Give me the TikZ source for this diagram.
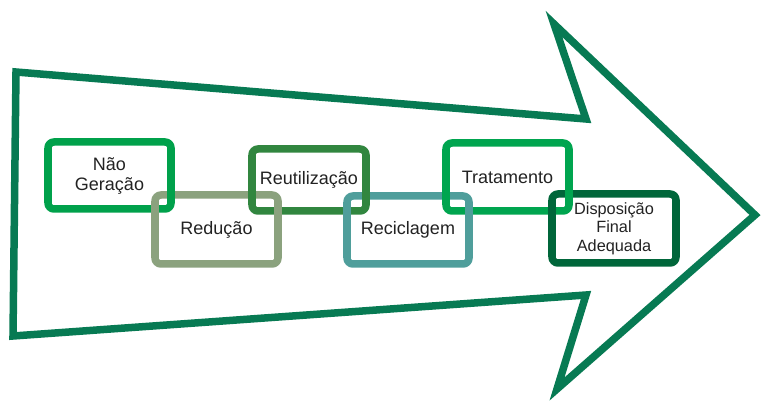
\documentclass[tikz,border=0pt]{standalone}
\usepackage{fontspec}
\setmainfont{Liberation Sans}
\definecolor{arrowgreen}{HTML}{077A53}
\definecolor{cNao}{HTML}{00A14B}
\definecolor{cRed}{HTML}{8BA27E}
\definecolor{cReu}{HTML}{31863F}
\definecolor{cRec}{HTML}{4F9E9B}
\definecolor{cTra}{HTML}{00A54F}
\definecolor{cDis}{HTML}{00663A}
\definecolor{txt}{HTML}{222222}
\begin{document}
\begin{tikzpicture}[x=1pt,y=-1pt,
  link/.style={draw=#1, line width=7.5pt, rounded corners=6pt, outer sep=0pt,
    inner sep=0pt, align=center, text=txt, font=\fontsize{18}{20}\selectfont},
  vedge/.style={draw=#1, line width=7.5pt, line cap=butt}]
\useasboundingbox (0,0) rectangle (763,403);
% big arrow outline
\draw[arrowgreen, line width=7.5pt, line join=miter]
  (16,72) -- (586,119) -- (554,24) -- (755,215) -- (557,389) -- (586,295) -- (13,336) -- cycle;
% chain links
\node[link=cNao, minimum width=123pt, minimum height=67pt] (nao) at (109.5,175.5) {Não\\Geração};
\node[link=cRed, minimum width=123pt, minimum height=69pt] (red) at (216.5,229.5) {Redução};
\node[link=cReu, minimum width=114pt, minimum height=62pt] (reu) at (309,180) {Reutilização};
\node[link=cRec, minimum width=122pt, minimum height=68pt] (rec) at (408,230) {Reciclagem};
\node[link=cTra, minimum width=123pt, minimum height=68pt] (tra) at (507.5,177) {Tratamento};
\node[link=cDis, minimum width=124pt, minimum height=69pt,
  font=\fontsize{16.3}{18.5}\selectfont] (dis) at (614,228.5) {Disposição\\Final\\Adequada};
% vertical edges on top (interlocking effect)
\foreach \n/\c in {nao/cNao, red/cRed, reu/cReu, rec/cRec, tra/cTra, dis/cDis}{
  \draw[vedge=\c] ([yshift=-6pt]\n.north west) -- ([yshift=6pt]\n.south west);
  \draw[vedge=\c] ([yshift=-6pt]\n.north east) -- ([yshift=6pt]\n.south east);
}
\end{tikzpicture}
\end{document}
